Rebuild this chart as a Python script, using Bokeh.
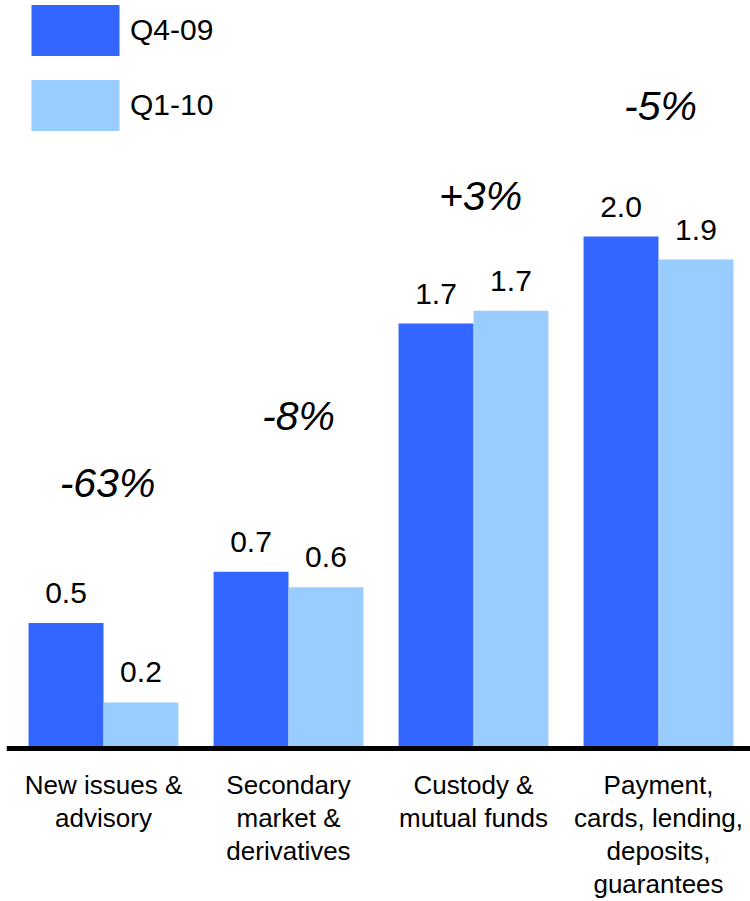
from bokeh.plotting import figure
from bokeh.models import ColumnDataSource, Range1d, Span, Legend, LegendItem
from bokeh.core.properties import value
from bokeh.transform import dodge
from bokeh.embed import file_html
from bokeh.resources import INLINE

# ---- data ----
categories = [
    "New issues &\nadvisory",
    "Secondary\nmarket &\nderivatives",
    "Custody &\nmutual funds",
    "Payment,\ncards, lending,\ndeposits,\nguarantees",
]
q4_09 = [0.49, 0.69, 1.66, 2.00]
q1_10 = [0.18, 0.63, 1.71, 1.91]
q4_09_labels = ["0.5", "0.7", "1.7", "2.0"]
q1_10_labels = ["0.2", "0.6", "1.7", "1.9"]
changes = ["-63%", "-8%", "+3%", "-5%"]

# ---- layout constants ----
change_label_y = [0.98, 1.24, 2.10, 2.45]
change_label_dx = [4, 10, 7, 2]
FONT_NAME = "Liberation Sans"
FONT = value(FONT_NAME)
DARK = "#3366FF"
LIGHT = "#99CCFF"
BAR_W = 0.405
OFF = 0.2025

xs = list(range(len(categories)))
src = ColumnDataSource(dict(
    x=xs, cat=categories, a=q4_09, b=q1_10,
    la=q4_09_labels, lb=q1_10_labels,
    chg=changes, cy=change_label_y, cdx=change_label_dx,
    zero=[0] * len(xs),
))

p = figure(width=750, height=901, output_backend="svg", toolbar_location=None,
           x_range=Range1d(-0.5243, 3.4973), y_range=Range1d(-0.5977, 2.9219),
           min_border_left=6, min_border_right=0, min_border_top=0, min_border_bottom=0)
p.axis.visible = False
p.grid.visible = False
p.outline_line_color = None
p.background_fill_color = "white"
p.border_fill_color = "white"

r_a = p.vbar(x=dodge("x", -OFF, range=p.x_range), top="a", width=BAR_W, source=src,
             fill_color=DARK, line_color=None)
r_b = p.vbar(x=dodge("x", OFF, range=p.x_range), top="b", width=BAR_W, source=src,
             fill_color=LIGHT, line_color=None)

p.text(x=dodge("x", -OFF, range=p.x_range), y="a", text="la", source=src,
       text_align="center", text_baseline="alphabetic", y_offset=-30,
       text_font=FONT, text_font_size="30px", text_color="black")
p.text(x=dodge("x", OFF, range=p.x_range), y="b", text="lb", source=src,
       text_align="center", text_baseline="alphabetic", y_offset=-30,
       text_font=FONT, text_font_size="30px", text_color="black")

p.text(x="x", y="cy", text="chg", source=src, text_align="center", x_offset="cdx",
       text_baseline="alphabetic", y_offset=-15, text_font=FONT, text_font_size="41px",
       text_font_style="italic", text_color="black")

p.text(x="x", y="zero", text="cat", source=src, text_align="center",
       text_baseline="top", y_offset=22, text_line_height=1.09,
       text_font=FONT, text_font_size="26px", text_color="black")

p.add_layout(Span(location=0, dimension="width", line_color="black", line_width=5))

legend = Legend(items=[LegendItem(label="Q4-09", renderers=[r_a]),
                       LegendItem(label="Q1-10", renderers=[r_b])],
                location=(14, 764.5), glyph_width=110, glyph_height=64,
                spacing=11, padding=0, margin=0, label_standoff=0,
                label_text_font=FONT_NAME, label_text_font_size="30px",
                label_text_color="black",
                border_line_alpha=0, background_fill_alpha=0)
p.add_layout(legend)

open("out.html", "w").write(file_html(p, INLINE))
